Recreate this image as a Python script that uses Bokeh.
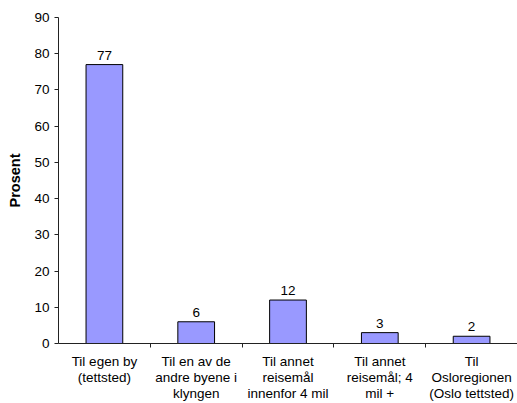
from bokeh.plotting import figure
from bokeh.models import ColumnDataSource, FixedTicker, Range1d
from bokeh.core.properties import value
from bokeh.embed import file_html
from bokeh.resources import INLINE

# Share of trips by destination (percent)
categories = [
    "Til egen by\n(tettsted)",
    "Til en av de\nandre byene i\nklyngen",
    "Til annet\nreisemål\ninnenfor 4 mil",
    "Til annet\nreisemål; 4\nmil +",
    "Til\nOsloregionen\n(Oslo tettsted)",
]
values = [77, 6, 12, 3, 2]
y_ticks = [0, 10, 20, 30, 40, 50, 60, 70, 80, 90]

FONT = "Liberation Sans"
SIZE = "13.5px"

centers = [i + 0.5 for i in range(len(categories))]
source = ColumnDataSource(dict(
    x=centers,
    top=values,
    label=[str(v) for v in values],
))

p = figure(
    width=517, height=403,
    x_range=Range1d(0, len(categories)),
    y_range=Range1d(0, 90),
    output_backend="svg",
    toolbar_location=None,
    min_border_left=58, min_border_right=0,
    min_border_top=17, min_border_bottom=58,
)
p.outline_line_color = None
p.xgrid.visible = False
p.ygrid.visible = False
p.background_fill_color = "white"
p.border_fill_color = "white"

p.vbar(x="x", top="top", bottom=0, width=0.4, source=source,
       fill_color="#9999FF", line_color="black", line_width=1)

p.text(x="x", y="top", text="label", source=source,
       text_align="center", text_baseline="bottom", y_offset=-5,
       text_font=value(FONT), text_font_size=value(SIZE), text_color="black")

# x axis: category names at bar centres, small ticks at the boundaries
p.xaxis.ticker = FixedTicker(ticks=centers,
                             minor_ticks=list(range(1, len(categories))))
p.xaxis.major_label_overrides = {c: lab for c, lab in zip(centers, categories)}
p.xaxis.major_tick_out = 0
p.xaxis.major_tick_in = 0
p.xaxis.minor_tick_out = 4
p.xaxis.minor_tick_in = 0
p.xaxis.minor_tick_line_color = "#222222"
p.xaxis.axis_line_color = "#222222"
p.xaxis.major_label_text_font = FONT
p.xaxis.major_label_text_font_size = SIZE
p.xaxis.major_label_text_color = "black"
p.xaxis.major_label_standoff = 6
p.xaxis.major_label_text_line_height = 1.08

# y axis
p.yaxis.ticker = FixedTicker(ticks=y_ticks)
p.yaxis.minor_tick_line_color = None
p.yaxis.major_tick_out = 4
p.yaxis.major_tick_in = 0
p.yaxis.major_tick_line_color = "#222222"
p.yaxis.axis_line_color = "#222222"
p.yaxis.major_label_text_font = FONT
p.yaxis.major_label_text_font_size = SIZE
p.yaxis.major_label_text_color = "black"
p.yaxis.major_label_standoff = 5
p.yaxis.axis_label = "Prosent"
p.yaxis.axis_label_text_font = FONT
p.yaxis.axis_label_text_font_size = "14.5px"
p.yaxis.axis_label_text_font_style = "bold"
p.yaxis.axis_label_text_color = "black"
p.yaxis.axis_label_standoff = 8

open("out.html", "w").write(file_html(p, INLINE))
